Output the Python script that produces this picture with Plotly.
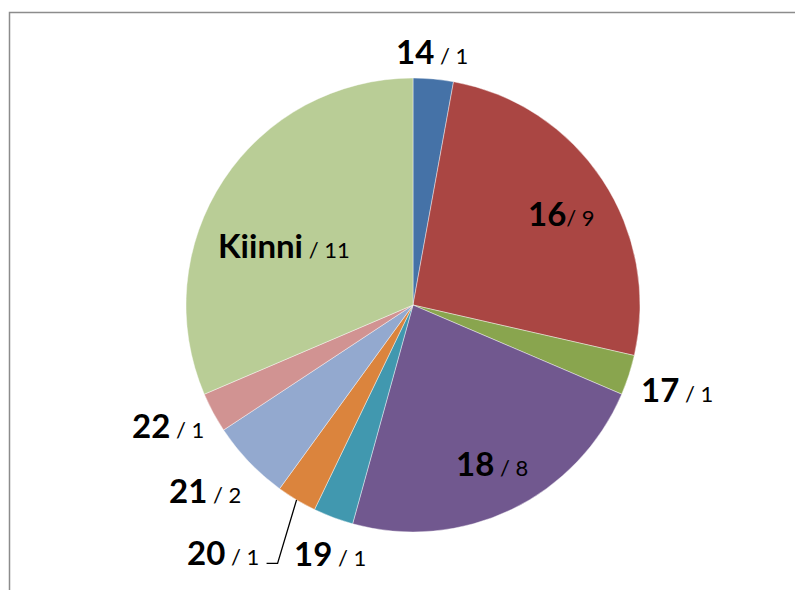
import math
import plotly.graph_objects as go

# ---- data ----
labels = ["14", "16", "17", "18", "19", "20", "21", "22", "Kiinni"]
values = [1, 9, 1, 8, 1, 1, 2, 1, 11]
separators = [" / ", "/ ", " / ", " / ", " / ", " / ", " / ", " / ", " / "]

# ---- style ----
colors = ["#4572A7", "#AA4643", "#89A54E", "#71588F", "#4198AF",
          "#DB843D", "#93A9CF", "#D19392", "#B9CD96"]
label_radius = [1.12, 0.77, 1.22, 0.78, 1.15, 1.375, 1.225, 1.20, 0.625]
label_angle_shift = [-0.8, 1.8, -0.3, -0.9, -2.1, 6.7, 2.0, 2.2, -8.4]
leader = [False, False, False, False, False, True, False, False, False]

W, H = 803, 590
OFF = 8  # page body margin
CX, CY, R = 413, 305, 227
FONT = "Lato"
BIG, SMALL = 33, 22
TEXT_DY = 0


def px_to_paper(x, y):
    return (x - OFF) / W, 1 - (y - OFF) / H


dx0, dy1 = px_to_paper(CX - R, CY - R)
dx1, dy0 = px_to_paper(CX + R, CY + R)

fig = go.Figure(go.Pie(
    labels=labels, values=values, sort=False, direction="clockwise",
    rotation=0, textinfo="none", hoverinfo="label+value",
    marker=dict(colors=colors, line=dict(color="rgba(255,255,255,0.6)", width=0.7)),
    domain=dict(x=[dx0, dx1], y=[dy0, dy1]),
    showlegend=False,
))

total = sum(values)
cum = 0
annotations = []
shapes = []
for i, (lab, v) in enumerate(zip(labels, values)):
    mid = (cum + v / 2) / total * 360
    cum += v
    ang = math.radians(mid + label_angle_shift[i])
    d = label_radius[i] * R
    lx = CX + d * math.sin(ang)
    ly = CY - d * math.cos(ang) + TEXT_DY
    px, py = px_to_paper(lx, ly)
    annotations.append(dict(
        x=px, y=py, xref="paper", yref="paper", showarrow=False,
        xanchor="center", yanchor="middle",
        text=f"<b>{lab}</b><span style='font-size:{SMALL}px'>{separators[i]}{v}</span>",
        font=dict(family=FONT, size=BIG, color="#000000"),
    ))
    if leader[i]:
        ma = math.radians(mid)
        ex = CX + R * math.sin(ma)
        ey = CY - R * math.cos(ma)
        elbow_x = ex - 19
        elbow_y = ly + 11
        end_x = elbow_x - 11
        p = [px_to_paper(ex, ey), px_to_paper(elbow_x, elbow_y), px_to_paper(end_x, elbow_y)]
        shapes.append(dict(
            type="path", xref="paper", yref="paper",
            path=f"M {p[0][0]},{p[0][1]} L {p[1][0]},{p[1][1]} L {p[2][0]},{p[2][1]}",
            line=dict(color="#000000", width=1.3),
        ))

# outer frame
fx0, fy0 = px_to_paper(9.5, 12.5)
shapes.append(dict(type="rect", xref="paper", yref="paper",
                   x0=fx0, y0=-0.05, x1=1.05, y1=fy0,
                   line=dict(color="#8c8c8c", width=1.5)))

fig.update_layout(
    width=W, height=H, margin=dict(l=0, r=0, t=0, b=0),
    paper_bgcolor="white", plot_bgcolor="white",
    annotations=annotations, shapes=shapes,
)

fig.write_html("out.html")
